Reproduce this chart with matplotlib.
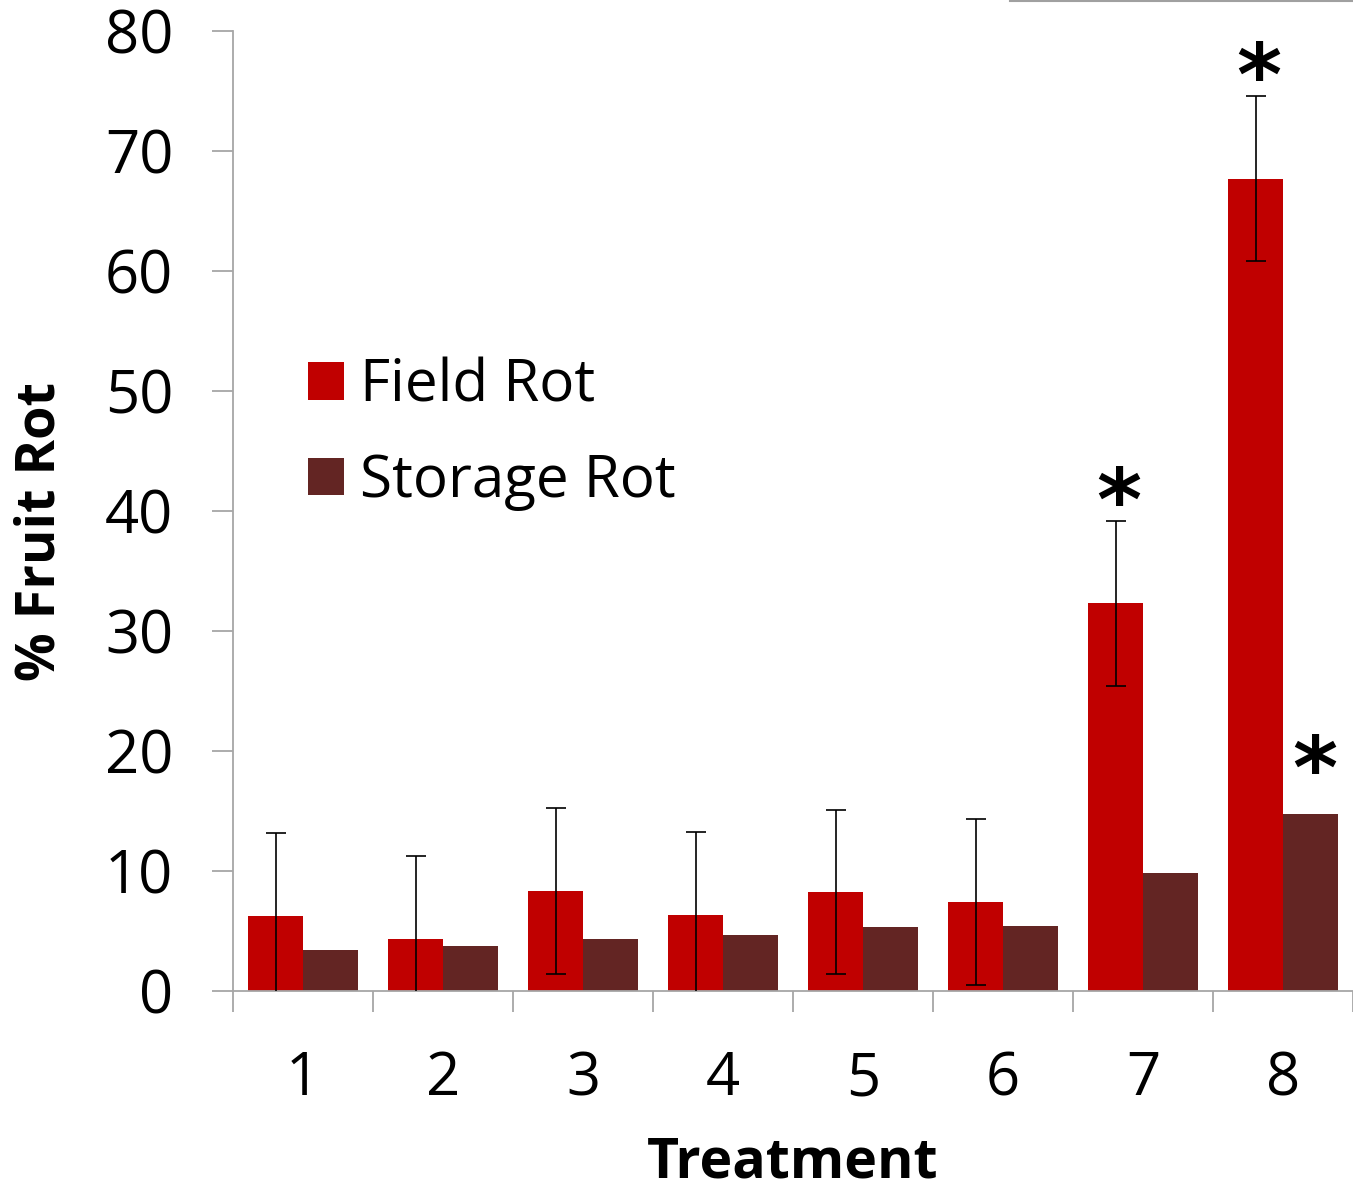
import matplotlib
matplotlib.use("Agg")
import matplotlib.pyplot as plt
from matplotlib.lines import Line2D
import numpy as np

# Data
treatments = ["1", "2", "3", "4", "5", "6", "7", "8"]
field_rot = [6.25, 4.33, 8.33, 6.33, 8.25, 7.4, 32.3, 67.7]
field_err = [6.9, 6.9, 6.9, 6.9, 6.85, 6.9, 6.85, 6.85]
storage_rot = [3.4, 3.75, 4.33, 4.67, 5.33, 5.4, 9.8, 14.75]
field_signif = [False, False, False, False, False, False, True, True]
storage_signif = [False, False, False, False, False, False, False, True]
series_names = ["Field Rot", "Storage Rot"]
yticks = [0, 10, 20, 30, 40, 50, 60, 70, 80]

field_color = "#C00000"
storage_color = "#632523"
axis_gray = "#A6A6A6"

plt.rcParams["font.family"] = ["Open Sans", "DejaVu Sans"]

fig = plt.figure(figsize=(13.53, 11.92), dpi=100)
ax = fig.add_axes([233 / 1353, 1 - 991 / 1192, 1120 / 1353, 960 / 1192])

x = np.arange(1, len(treatments) + 1)
w = 0.39
ax.bar(x - w / 2, field_rot, width=w, color=field_color, label=series_names[0], zorder=2)
ax.bar(x + w / 2, storage_rot, width=w, color=storage_color, label=series_names[1], zorder=2)
ax.errorbar(x - w / 2, field_rot, yerr=field_err, fmt="none", ecolor="black",
            elinewidth=1.2, capsize=7, capthick=1.2, zorder=3)

# Significance markers (glyph centre placed a little above the mark)
star_fs = 62


def star(xc, yc):
    ax.annotate("*", xy=(xc, yc), xytext=(0, -0.59 * star_fs), textcoords="offset points",
                ha="center", va="baseline", fontsize=star_fs, fontweight="bold",
                family="DejaVu Sans", zorder=4, annotation_clip=False)


for xi, v, e, s in zip(x, field_rot, field_err, field_signif):
    if s:
        star(xi - w / 2 + 0.02, v + e + 3.5)
for xi, v, s in zip(x, storage_rot, storage_signif):
    if s:
        star(xi + w / 2 + 0.03, v + 5.6)

ax.set_xlim(0.5, 8.5)
ax.set_ylim(0, 80)
ax.set_yticks(yticks)
ax.set_yticklabels([str(t) for t in yticks])
ax.set_xticks(x)
ax.set_xticklabels(treatments)
ax.set_xticks(np.arange(0.5, 9.0, 1.0), minor=True)

for side in ("top", "right"):
    ax.spines[side].set_visible(False)
for side in ("left", "bottom"):
    ax.spines[side].set_color(axis_gray)
    ax.spines[side].set_linewidth(1.3)

ax.tick_params(axis="y", which="major", direction="out", length=15, width=1.3,
               color=axis_gray, labelsize=43, pad=28)
ax.tick_params(axis="x", which="major", length=0, labelsize=43, pad=42)
ax.tick_params(axis="x", which="minor", direction="out", length=15, width=1.3,
               color=axis_gray)

ax.set_ylabel("% Fruit Rot", fontsize=39, fontweight="bold", labelpad=27)
ax.yaxis.label.set_y(0.479)
ax.set_xlabel("Treatment", fontsize=40, fontweight="bold", labelpad=19)

ax.legend(loc="upper left", bbox_to_anchor=(0.046, 0.685), frameon=False,
          fontsize=42, handlelength=0.62, handleheight=0.62, handletextpad=0.28,
          labelspacing=0.64, borderaxespad=0)

fig.add_artist(Line2D([1010 / 1353, 1.0], [1 - 1 / 1192, 1 - 1 / 1192],
                      color="#A0A0A0", linewidth=1.5))

fig.savefig("out.png", dpi=100)
